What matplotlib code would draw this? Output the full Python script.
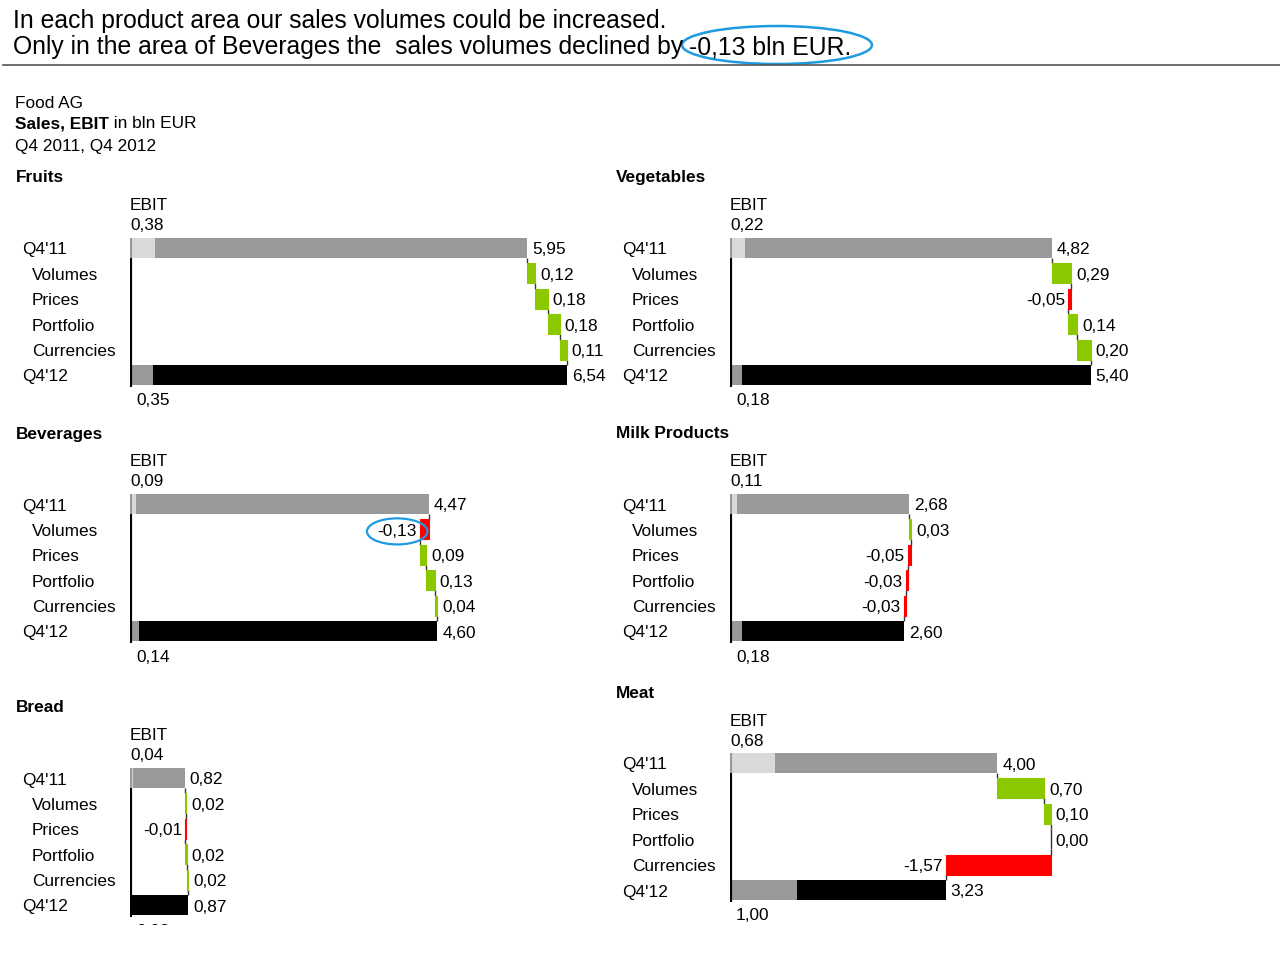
import matplotlib
matplotlib.use('Agg')
import matplotlib.pyplot as plt
from matplotlib.lines import Line2D
from matplotlib.patches import Ellipse

plt.rcParams['font.family'] = ['Liberation Sans', 'DejaVu Sans']

# data (bln EUR)
rows = ["Q4'11", "Volumes", "Prices", "Portfolio", "Currencies", "Q4'12"]
panels = ["Fruits", "Vegetables", "Beverages", "Milk Products", "Bread", "Meat"]
sales_q411 = [5.95, 4.82, 4.47, 2.68, 0.82, 4.00]
ebit_q411 = [0.38, 0.22, 0.09, 0.11, 0.04, 0.68]
volumes = [0.12, 0.29, -0.13, 0.03, 0.02, 0.70]
prices = [0.18, -0.05, 0.09, -0.05, -0.01, 0.10]
portfolio = [0.18, 0.14, 0.13, -0.03, 0.02, 0.00]
currencies = [0.11, 0.20, 0.04, -0.03, 0.02, -1.57]
sales_q412 = [6.54, 5.40, 4.60, 2.60, 0.87, 3.23]
ebit_q412 = [0.35, 0.18, 0.14, 0.18, 0.03, 1.00]

W, H = 1280, 960
PX_PER_UNIT = 66.8
ROW_PX = 25.4
BH = 0.79
GREEN = '#8cc800'
RED = '#ff0000'
BLUE = '#1e9be0'
FS = 12.4
TFS = 17.8
TY = -2  # small vertical nudge for text

# panel anchors in pixels: left edge of bars, centre of the Q4'11 row
anchors = [(130, 248), (730, 248), (130, 504), (730, 504), (130, 778), (730, 763)]
bottom_cut = [None, None, None, None, 925, None]


def fmt(v):
    return f"{v:.2f}".replace('.', ',')


fig = plt.figure(figsize=(W / 100, H / 100), dpi=100)

# full-figure axes in pixel units for headline and header text
top = fig.add_axes([0, 0, 1, 1])
top.set_xlim(0, W)
top.set_ylim(H, 0)
top.axis('off')
top.text(13, 21, "In each product area our sales volumes could be increased.",
         fontsize=TFS, va='center', ha='left')
l2 = top.text(13, 47, "Only in the area of Beverages the  sales volumes declined by",
              fontsize=TFS, va='center', ha='left')
top.annotate("-0,13 bln EUR.", xy=(1, 0.5), xycoords=l2, xytext=(6, 0),
             textcoords='offset pixels', fontsize=TFS, va='center', ha='left')
top.add_patch(Ellipse((777, 45), 190, 38, fc='none', ec=BLUE, lw=1.8))
top.add_line(Line2D([3, W], [65, 65], color='#555555', lw=1.2))
top.text(15, 103, "Food AG", fontsize=FS, va='center')
b = top.text(15, 124, "Sales, EBIT", fontsize=FS, va='center', fontweight='bold')
top.annotate(" in bln EUR", xy=(1, 0.5), xycoords=b, fontsize=FS, va='center')
top.text(15, 146, "Q4 2011, Q4 2012", fontsize=FS, va='center')

pw = 540
for i, name in enumerate(panels):
    x0, r0 = anchors[i]
    top_px = r0 - 100
    bot_px = bottom_cut[i] if bottom_cut[i] else r0 + 180
    ax = fig.add_axes([x0 / W, 1 - bot_px / H, pw / W, (bot_px - top_px) / H])
    ax.set_xlim(0, pw / PX_PER_UNIT)
    ax.set_ylim((bot_px - r0) / ROW_PX, (top_px - r0) / ROW_PX)
    ax.axis('off')

    # Q4'11 sales with EBIT part
    ax.barh(0, sales_q411[i], height=BH, color='#999999', zorder=2)
    ax.barh(0, ebit_q411[i], height=BH, color='#d9d9d9', zorder=3)
    ax.annotate(fmt(sales_q411[i]), xy=(sales_q411[i], 0), xytext=(5, TY),
                textcoords='offset pixels', va='center', ha='left', fontsize=FS)

    deltas = [volumes[i], prices[i], portfolio[i], currencies[i]]
    run = sales_q411[i]
    for k, d in enumerate(deltas):
        r = k + 1
        ax.vlines(run, r - 1 + BH / 2, r - BH / 2, color='#333333', lw=1, zorder=1)
        c = GREEN if d >= 0 else RED
        if d != 0:
            ax.barh(r, d, left=run, height=BH, color=c, ec=c, lw=0.8, zorder=2)
        end = run + d
        if d >= 0:
            kw = dict(xy=(end, r), xytext=(5, TY), ha='left')
        else:
            kw = dict(xy=(end, r), xytext=(-3, TY), ha='right')
        if name == "Beverages" and k == 0:
            kw['bbox'] = dict(boxstyle='ellipse,pad=0.1', fc='none', ec=BLUE, lw=1.6)
        ax.annotate(fmt(d), textcoords='offset pixels', va='center', fontsize=FS,
                    zorder=5, **kw)
        if d == 0:
            ax.vlines(run, r - BH / 2, r + BH / 2, color='#333333', lw=1, zorder=1)
        run = end
    ax.vlines(run, 4 + BH / 2, 5 - BH / 2, color='#333333', lw=1, zorder=1)

    # Q4'12 sales with EBIT part
    ax.barh(5, sales_q412[i], height=BH, color='black', zorder=2)
    ax.barh(5, ebit_q412[i], height=BH, color='#999999', zorder=3)
    ax.annotate(fmt(sales_q412[i]), xy=(sales_q412[i], 5), xytext=(5, TY),
                textcoords='offset pixels', va='center', ha='left', fontsize=FS)

    # base line
    ax.vlines(0, -BH / 2, BH / 2, color='#999999', lw=3, zorder=4)
    ax.vlines(0, BH / 2, 5 + BH / 2 + 0.08, color='black', lw=3, zorder=4)

    # EBIT labels
    ax.annotate("EBIT", xy=(0, 0), xytext=(0, 44 + TY), textcoords='offset pixels',
                va='center', ha='left', fontsize=FS)
    ax.annotate(fmt(ebit_q411[i]), xy=(0, 0), xytext=(0, 24 + TY), textcoords='offset pixels',
                va='center', ha='left', fontsize=FS)
    ax.annotate(fmt(ebit_q412[i]), xy=(0, 5), xytext=(6, -24 + TY), textcoords='offset pixels',
                va='center', ha='left', fontsize=FS, annotation_clip=False, clip_on=True)

    # row labels and panel title
    for r, lab in enumerate(rows):
        dx = -108 if r in (0, 5) else -98
        ax.annotate(lab, xy=(0, r), xytext=(dx, TY), textcoords='offset pixels',
                    va='center', ha='left', fontsize=FS)
    ax.annotate(name, xy=(0, 0), xytext=(-114, 72 + TY), textcoords='offset pixels',
                va='center', ha='left', fontsize=FS, fontweight='bold')

fig.savefig('out.png', dpi=100)
